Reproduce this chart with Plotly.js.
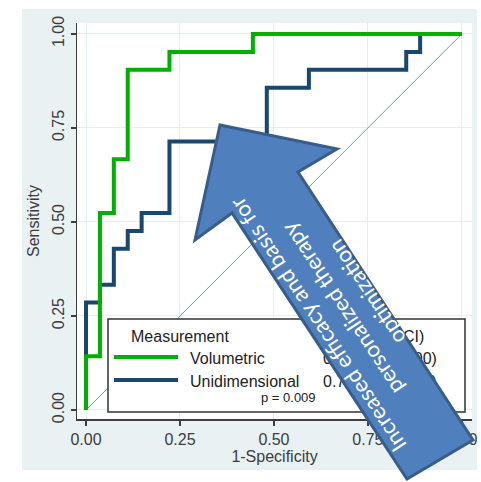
<!DOCTYPE html>
<html>
<head>
<meta charset="utf-8">
<script src="https://cdn.plot.ly/plotly-3.0.1.min.js"></script>
<style>
html, body { margin: 0; padding: 0; background: #ffffff; }
#chart { width: 481px; height: 482px; }
</style>
</head>
<body>
<div id="chart"></div>
<script>
// ROC curve vertices (1-Specificity, Sensitivity)
const volFPR = [0, 0, 0.037, 0.074, 0.111, 0.222, 0.444, 1];
const volTPR = [0, 0.143, 0.524, 0.667, 0.905, 0.952, 1, 1];
const uniFPR = [0, 0, 0.037, 0.074, 0.111, 0.148, 0.222, 0.481, 0.593, 0.852, 0.889, 1];
const uniTPR = [0, 0.286, 0.333, 0.429, 0.476, 0.524, 0.714, 0.857, 0.905, 0.952, 1, 1];
const refX = [0, 1];
const refY = [0, 1];

const tickVals = [0, 0.25, 0.5, 0.75, 1];
const tickText = ['0.00', '0.25', '0.50', '0.75', '1.00'];

const seriesNames = ['Volumetric', 'Unidimensional'];
const aucLabels = ['0.92 (0.84-1.00)', '0.76 (0.62-0.89)'];
const legendTitle = 'Measurement';
const aucTitle = 'AUC (95% CI)';
const pText = 'p = 0.009';
const arrowLines = ['Increased efficacy and basis for', 'personalized therapy', 'optimization'];

const GREEN = '#00b000';
const NAVY = '#1a476f';
const AX = '#3c3c3c';
const FONT = 'Liberation Sans, Arial, sans-serif';

// pixel -> paper helpers (plot area: x 77..472, y 23..419)
const L = 77, R = 9, T = 23, B = 63, W = 481, H = 482;
const PW = W - L - R, PH = H - T - B;
const px = v => (v - L) / PW;
const py = v => (H - B - v) / PH;

const traces = [
  { x: refX, y: refY, mode: 'lines', line: { color: '#6f9c8e', width: 1 }, hoverinfo: 'skip', showlegend: false },
  { x: uniFPR, y: uniTPR, mode: 'lines', line: { color: NAVY, width: 4, shape: 'hv' }, name: seriesNames[1], showlegend: false },
  { x: volFPR, y: volTPR, mode: 'lines', line: { color: GREEN, width: 4, shape: 'hv' }, name: seriesNames[0], showlegend: false }
];

function stripe(x0, x1, y0, y1) {
  return { type: 'rect', xref: 'paper', yref: 'paper', x0: x0, x1: x1, y0: y0, y1: y1,
    fillcolor: '#ffffff', line: { width: 0 }, layer: 'below' };
}
function textShape(xl, yc, text, size, color) {
  return { type: 'rect', xref: 'paper', yref: 'paper', x0: px(xl), x1: px(xl + 10), y0: py(yc + 2), y1: py(yc - 2),
    fillcolor: 'rgba(0,0,0,0)', line: { width: 0 }, layer: 'above',
    label: { text: text, textposition: 'middle left', xanchor: 'left', yanchor: 'middle', padding: 0,
      font: { family: FONT, size: size, color: color || '#222' } } };
}
function lineSample(x0, x1, y, color) {
  return { type: 'line', xref: 'paper', yref: 'paper', x0: px(x0), x1: px(x1), y0: py(y), y1: py(y),
    line: { color: color, width: 4 }, layer: 'above' };
}

const arrowPts = [[220,125],[337,149],[298,172],[473,440],[407,479],[232,213],[195,240]];
const arrowPath = 'M ' + arrowPts.map(p => px(p[0]).toFixed(4) + ' ' + py(p[1]).toFixed(4)).join(' L ') + ' Z';

const shapes = [
  stripe(-0.4, px(22), -0.4, 1.3),
  stripe(px(477), 1.3, -0.4, 1.3),
  stripe(-0.4, 1.3, py(9), 1.3),
  stripe(-0.4, 1.3, -0.4, py(470)),
  // legend box
  { type: 'rect', xref: 'paper', yref: 'paper', x0: px(108), x1: px(465), y0: py(412), y1: py(319),
    fillcolor: '#ffffff', line: { color: '#333333', width: 1.5 }, layer: 'above' },
  textShape(128, 334, legendTitle, 16),
  textShape(320, 334, aucTitle, 16),
  lineSample(114, 178, 357, GREEN),
  lineSample(114, 178, 380, NAVY),
  textShape(187, 356, seriesNames[0], 16),
  textShape(187, 379, seriesNames[1], 16),
  textShape(320, 356, aucLabels[0], 16),
  textShape(320, 379, aucLabels[1], 16),
  textShape(258, 396, pText, 13),
  // arrow
  { type: 'path', xref: 'paper', yref: 'paper', path: arrowPath,
    fillcolor: '#4f7fbc', line: { color: '#385d8a', width: 3 }, layer: 'above' }
];

const lineCenters = [[317,325],[341.5,309],[366,293]];
const annotations = arrowLines.map((t, i) => ({
  xref: 'paper', yref: 'paper', x: px(lineCenters[i][0]), y: py(lineCenters[i][1]),
  xanchor: 'center', yanchor: 'middle', text: t, showarrow: false, textangle: -123.6,
  font: { family: 'Lato, sans-serif', size: 22, color: '#ffffff' }
}));

const axisCommon = {
  tickvals: tickVals, ticktext: tickText, ticks: 'outside', ticklen: 5, tickwidth: 1.5, tickcolor: AX,
  showline: true, linecolor: AX, linewidth: 1.5, showgrid: true, gridcolor: '#e6eef1', gridwidth: 1,
  zeroline: false, fixedrange: true,
  tickfont: { family: FONT, size: 16, color: AX }
};

const layout = {
  width: W, height: H,
  margin: { l: L, r: R, t: T, b: B },
  paper_bgcolor: '#eaf1f3', plot_bgcolor: '#ffffff',
  showlegend: false,
  xaxis: Object.assign({}, axisCommon, { range: [-0.024, 1.027],
    title: { text: '1-Specificity', font: { family: FONT, size: 16, color: AX }, standoff: 0 } }),
  yaxis: Object.assign({}, axisCommon, { range: [-0.024, 1.029], tickangle: -90,
    title: { text: 'Sensitivity', font: { family: FONT, size: 16, color: AX }, standoff: 6 } }),
  shapes: shapes,
  annotations: annotations
};

Plotly.newPlot('chart', traces, layout, { staticPlot: true, displayModeBar: false });
</script>
</body>
</html>
